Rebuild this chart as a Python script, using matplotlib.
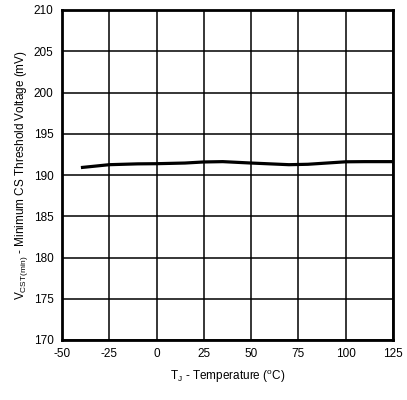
import matplotlib
matplotlib.use("Agg")
import matplotlib.pyplot as plt

plt.rcParams['font.family'] = ['Liberation Sans', 'DejaVu Sans']
plt.rcParams['axes.unicode_minus'] = False

# temperature (C) and threshold voltage (mV)
temp = [-40, -25, -10, 0, 15, 25, 35, 50, 60, 70, 80, 90, 100, 110, 125]
vcst = [190.9, 191.25, 191.35, 191.37, 191.45, 191.58, 191.62, 191.45, 191.35, 191.25, 191.3, 191.45, 191.6, 191.62, 191.62]

xticks = [-50, -25, 0, 25, 50, 75, 100, 125]
yticks = [170, 175, 180, 185, 190, 195, 200, 205, 210]

fig = plt.figure(figsize=(4.07, 4.0), dpi=100)
ax = fig.add_axes([62 / 407, 60 / 400, 331 / 407, 330 / 400])

ax.plot(temp, vcst, color='black', linewidth=2.3, solid_capstyle='butt')

ax.set_xlim(-50, 125)
ax.set_ylim(170, 210)
ax.set_xticks(xticks)
ax.set_yticks(yticks)
ax.grid(True, color='black', linewidth=1.1)
ax.tick_params(length=0, labelsize=8.5, pad=6)
for s in ax.spines.values():
    s.set_linewidth(2)

ax.set_xlabel('T$_\\mathregular{J}$ - Temperature ($^\\mathregular{o}$C)', fontsize=8.5, labelpad=6)
ax.set_ylabel('V$_\\mathregular{CST(min)}$ - Minimum CS Threshold Voltage (mV)', fontsize=8.5, labelpad=3)

fig.savefig('out.png', dpi=100)
